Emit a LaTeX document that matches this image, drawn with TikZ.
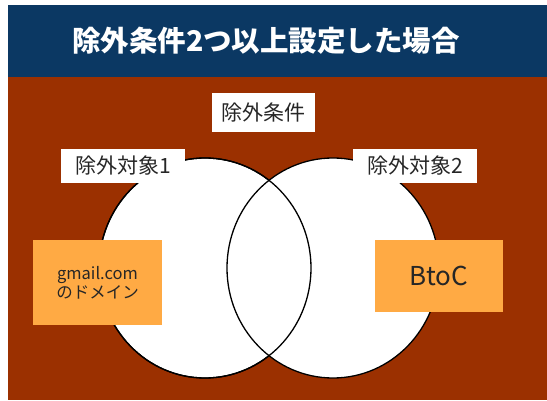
\documentclass[tikz,border=0pt]{standalone}
\usepackage{fontspec}
\newfontfamily\cjk{Noto Sans CJK JP}
\usetikzlibrary{shapes.geometric}
\definecolor{hdrblue}{HTML}{0B3863}
\definecolor{rust}{HTML}{9B3000}
\definecolor{boxorange}{HTML}{FFAA44}
\tikzset{
  vennset/.style={ellipse, draw=black, line width=1.3pt, fill=white, minimum width=212pt, minimum height=220pt, inner sep=0pt},
  tag/.style={fill=white, inner sep=0pt, font=\cjk\fontsize{21}{23}\selectfont, text=black!85},
  obox/.style={fill=boxorange, inner sep=0pt, align=center, text=black!85}
}
\begin{document}
\begin{tikzpicture}[x=1pt,y=-1pt]
\useasboundingbox (0,0) rectangle (547,401);
\fill[white] (0,0) rectangle (547,401);
\fill[hdrblue] (8,5) rectangle (547,77);
\fill[rust] (8,77) rectangle (547,400);
\node[text=white, font=\cjk\bfseries\fontsize{28.5}{30}\selectfont] (title) at (266,41) {除外条件2つ以上設定した場合};
% circles
\node[vennset] (c1) at (205,268) {};
\node[vennset] (c2) at (333,268) {};
\draw[line width=1.3pt] (c1.center) ellipse [x radius=106pt, y radius=110pt];
% labels
\node[tag, minimum width=103pt, minimum height=39pt] (cond) at (263.5,112.5) {除外条件};
\node[tag, minimum width=124pt, minimum height=34pt] (t1) at (123,166) {除外対象1};
\node[tag, minimum width=124pt, minimum height=34pt] (t2) at (415,166) {除外対象2};
\node[obox, minimum width=129pt, minimum height=85pt, font=\cjk\fontsize{16.5}{19}\selectfont] (b1) at (97.5,282.5) {gmail.com\\のドメイン};
\node[obox, minimum width=128pt, minimum height=72pt, font=\cjk\fontsize{26}{28}\selectfont] (b2) at (439,276) {BtoC};
\end{tikzpicture}
\end{document}
